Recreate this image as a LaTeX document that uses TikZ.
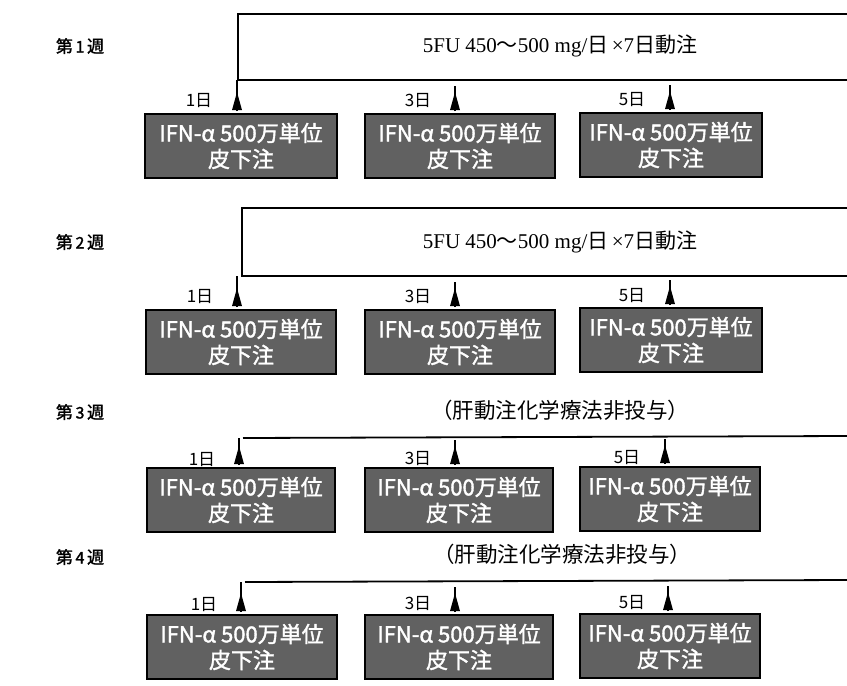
\documentclass[tikz,border=0pt]{standalone}
\usepackage{fontspec}
\setmainfont{Liberation Serif}
\newfontfamily\jp{Noto Sans CJK JP}
\newfontfamily\jpbold[FakeBold=1.6]{Noto Sans CJK JP}
\begin{document}
\begin{tikzpicture}[x=1pt,y=-1pt,
  ifnbox/.style={draw=black, line width=1.8pt, fill=black!62, text=white, inner sep=0pt,
    font=\jpbold\fontsize{22}{26}\selectfont, align=center, minimum height=64pt},
  weeklbl/.style={font=\jpbold\fontsize{17}{20}\selectfont, inner sep=0pt},
  daylbl/.style={font=\jp\fontsize{17}{19}\selectfont, inner sep=0pt},
  drug/.style={font=\fontsize{21}{24}\selectfont, inner sep=0pt},
  nodrug/.style={font=\jp\fontsize{21.5}{24}\selectfont, inner sep=0pt},
  frame/.style={line width=1.8pt},
  stem/.style={line width=1.1pt},
  tri/.style={fill=black},
]
\useasboundingbox (0,0) rectangle (847,686);

% ---------- week labels
\node[weeklbl] (w1) at (80,46) {第{\fontsize{16}{18}\selectfont\,1\,}週};
\node[weeklbl] (w2) at (80,242) {第{\fontsize{16}{18}\selectfont\,2\,}週};
\node[weeklbl] (w3) at (80,412) {第{\fontsize{16}{18}\selectfont\,3\,}週};
\node[weeklbl] (w4) at (80,557) {第{\fontsize{16}{18}\selectfont\,4\,}週};

% ---------- week 1
\coordinate (f1a) at (847,14);
\coordinate (f1b) at (238,14);
\coordinate (f1c) at (238,80);
\coordinate (f1d) at (847,80);
\draw[frame] (f1a) -- (f1b) -- (f1c) -- (f1d);
\node[drug] (d1) at (560,46) {5FU 450{\jp 〜}500 mg/{\jp 日}\,×7{\jp 日動注}};
\node[ifnbox, minimum width=192pt] (b11) at (241,146) {IFN-α 500万単位\\皮下注};
\node[ifnbox, minimum width=190pt] (b12) at (460,146) {IFN-α 500万単位\\皮下注};
\node[ifnbox, minimum width=182pt] (b13) at (671,145) {IFN-α 500万単位\\皮下注};
\node[daylbl] (l11) at (199,101) {1日};
\node[daylbl] (l12) at (418,101) {3日};
\node[daylbl] (l13) at (632,100) {5日};

% ---------- week 2
\coordinate (f2a) at (847,208);
\coordinate (f2b) at (242,208);
\coordinate (f2c) at (242,276);
\coordinate (f2d) at (847,276);
\draw[frame] (f2a) -- (f2b) -- (f2c) -- (f2d);
\node[drug] (d2) at (560,242) {5FU 450{\jp 〜}500 mg/{\jp 日}\,×7{\jp 日動注}};
\node[ifnbox, minimum width=190pt] (b21) at (241,342) {IFN-α 500万単位\\皮下注};
\node[ifnbox, minimum width=190pt] (b22) at (460,342) {IFN-α 500万単位\\皮下注};
\node[ifnbox, minimum width=182pt] (b23) at (671,340) {IFN-α 500万単位\\皮下注};
\node[daylbl] (l21) at (200,297) {1日};
\node[daylbl] (l22) at (418,297) {3日};
\node[daylbl] (l23) at (632,296) {5日};

% ---------- week 3
\coordinate (f3a) at (243,438);
\coordinate (f3b) at (847,436);
\draw[frame] (f3a) -- (f3b);
\node[nodrug] (n3) at (560,410) {（肝動注化学療法非投与）};
\node[ifnbox, minimum width=188pt] (b31) at (241,500) {IFN-α 500万単位\\皮下注};
\node[ifnbox, minimum width=188pt] (b32) at (459,500) {IFN-α 500万単位\\皮下注};
\node[ifnbox, minimum width=180pt] (b33) at (670,499) {IFN-α 500万単位\\皮下注};
\node[daylbl] (l31) at (202,460) {1日};
\node[daylbl] (l32) at (418,459) {3日};
\node[daylbl] (l33) at (627,458) {5日};

% ---------- week 4
\coordinate (f4a) at (245,582);
\coordinate (f4b) at (847,580);
\draw[frame] (f4a) -- (f4b);
\node[nodrug] (n4) at (562,554) {（肝動注化学療法非投与）};
\node[ifnbox, minimum width=190pt] (b41) at (242,647) {IFN-α 500万単位\\皮下注};
\node[ifnbox, minimum width=188pt] (b42) at (459,647) {IFN-α 500万単位\\皮下注};
\node[ifnbox, minimum width=180pt] (b43) at (670,646) {IFN-α 500万単位\\皮下注};
\node[daylbl] (l41) at (204,605) {1日};
\node[daylbl] (l42) at (418,604) {3日};
\node[daylbl] (l43) at (632,603) {5日};

% ---------- injection markers (stem + narrow triangle standing on each box)
\foreach \b/\top in {b11/f1c, b21/f2c}{
  \draw[stem] ([xshift=-4pt,yshift=2pt]\b.north) -- ([xshift=-4pt]\b.north |- \top);
}
\draw[stem] ([xshift=-2pt,yshift=2pt]b31.north) -- ([xshift=-2pt]b31.north |- f3a);
\draw[stem] ([xshift=-1pt,yshift=2pt]b41.north) -- ([xshift=-1pt]b41.north |- f4a);
\foreach \b/\dx in {b12/-5, b13/-1, b22/-5, b23/-1, b32/-4, b33/-5, b42/-4, b43/-2}{
  \draw[stem] ([xshift=\dx pt,yshift=2pt]\b.north) -- ([xshift=\dx pt,yshift=27pt]\b.north);
}
\foreach \b/\dx in {b11/-4, b12/-5, b13/-1, b21/-4, b22/-5, b23/-1, b31/-2, b32/-4, b33/-5, b41/-1, b42/-4, b43/-2}{
  \fill[tri] ([xshift=\dx pt-5pt,yshift=3pt]\b.north) -- ([xshift=\dx pt,yshift=21pt]\b.north) -- ([xshift=\dx pt+5pt,yshift=3pt]\b.north) -- cycle;
}
\end{tikzpicture}
\end{document}
